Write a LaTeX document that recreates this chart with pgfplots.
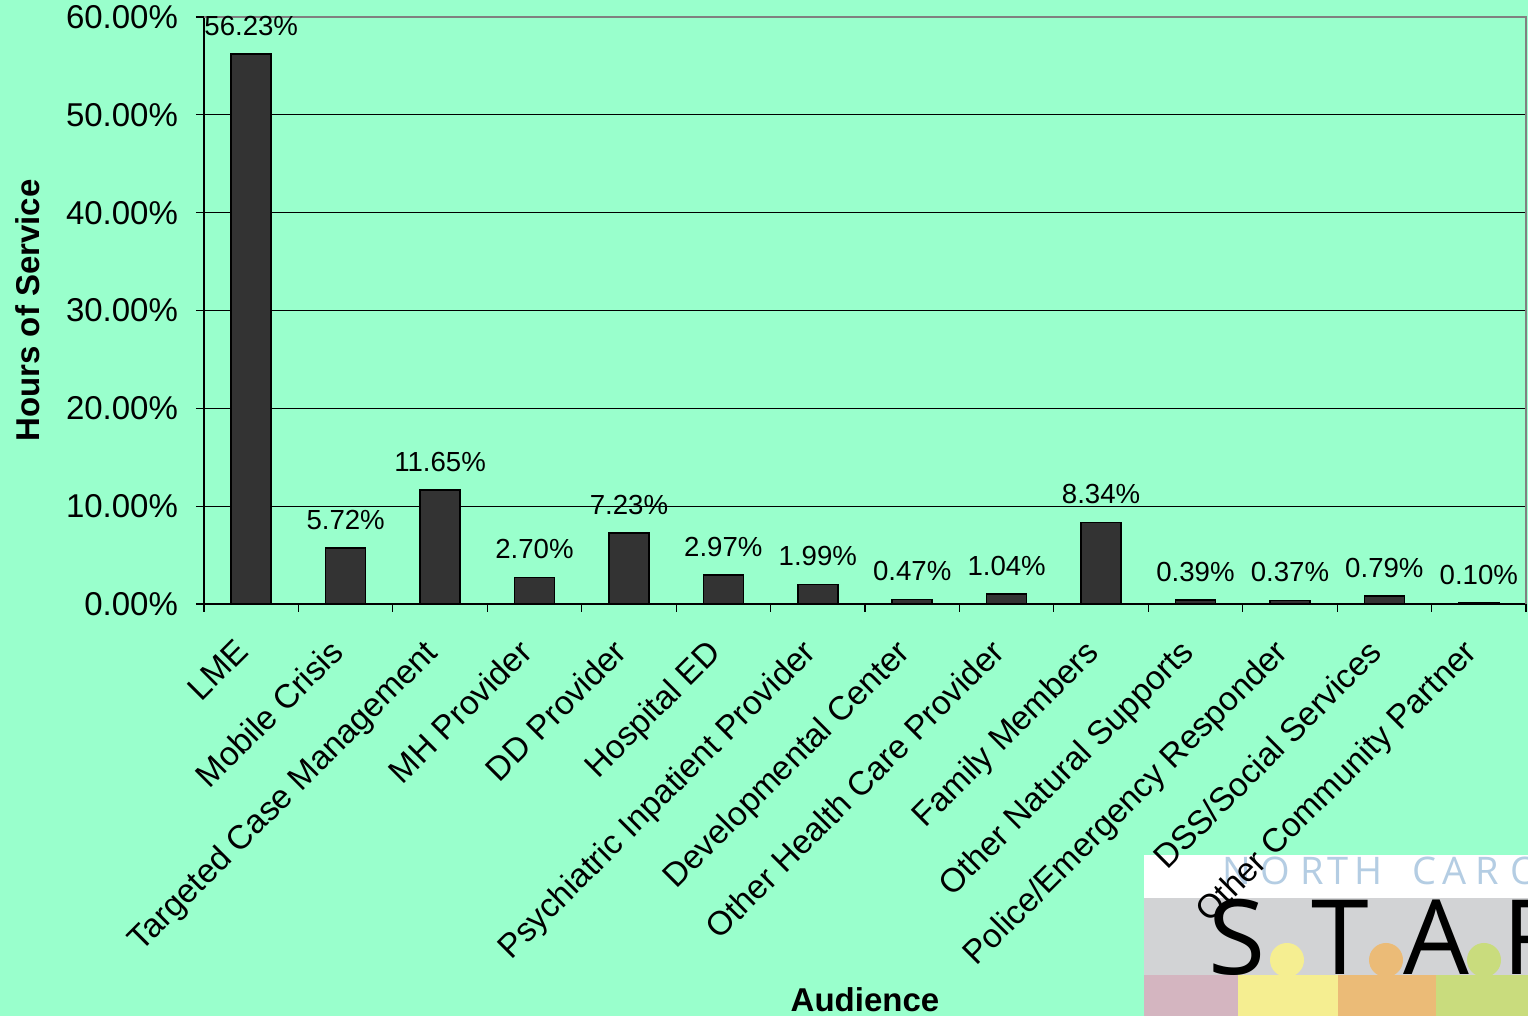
\documentclass[border=0pt]{standalone}
\usepackage{pgfplots}
\pgfplotsset{compat=1.18}
\usepackage{fontspec}
\setmainfont{Liberation Sans}
\newfontfamily\logofont{Open Sans}
\definecolor{bgcol}{HTML}{99FFCC}
\definecolor{barcol}{HTML}{333333}
\definecolor{logogray}{HTML}{D2D3D5}
\definecolor{logoblue}{HTML}{B4CDE3}
\definecolor{lpink}{HTML}{D4B5C0}
\definecolor{lyellow}{HTML}{F5EE91}
\definecolor{lorange}{HTML}{EBBB77}
\definecolor{lgreen}{HTML}{C9DC7D}
\begin{document}
\begin{tikzpicture}
\useasboundingbox (0,0) rectangle (764pt,508pt);
\fill[bgcol] (0,0) rectangle (764pt,508pt);
% logo (behind the chart texts)
\begin{scope}[x=0.5pt,y=0.5pt]
\clip (1144,0) rectangle (1528,161);
\fill[white] (1144,118) rectangle (1528,161);
\fill[logogray] (1144,41) rectangle (1528,118);
\fill[lpink] (1144,0) rectangle (1238,41);
\fill[lyellow] (1238,0) rectangle (1338,41);
\fill[lorange] (1338,0) rectangle (1436,41);
\fill[lgreen] (1436,0) rectangle (1528,41);
\fill[lyellow] (1287,56) circle (17);
\fill[lorange] (1386,56) circle (17);
\fill[lgreen] (1484,56) circle (17);
\begin{scope}[every node/.style={inner sep=0pt,anchor=base,text=logoblue,font=\logofont\fontsize{19}{20}\selectfont}]
\node at (1237,131) {N};
\node at (1275,131) {O};
\node at (1312,131) {R};
\node at (1338,131) {T};
\node at (1369,131) {H};
\node at (1424,131) {C};
\node at (1455,131) {A};
\node at (1487,131) {R};
\node at (1525,131) {O};
\end{scope}
\begin{scope}[every node/.style={inner sep=0pt,anchor=base,text=black,font=\logofont\fontsize{52}{54}\selectfont}]
\node at (1237,41) {S};
\node at (1340,41) {T};
\node at (1436,41) {A};
\node at (1535,41) {R};
\end{scope}
\end{scope}
\begin{axis}[
  at={(102pt,206pt)}, anchor=south west,
  width=661pt, height=293.5pt, scale only axis,
  xmin=-0.5, xmax=13.5, ymin=0, ymax=60,
  ybar, bar width=20pt,
  bar shift=0pt,
  axis line style={black, line width=0.8pt},
  tick align=outside, xtick pos=bottom, ytick pos=left,
  ytick={0,10,...,60},
  yticklabel={\pgfmathprintnumber[fixed,fixed zerofill,precision=2]{\tick}\%},
  yticklabel style={font=\fontsize{16.5}{19}\selectfont, xshift=-5.5pt},
  ymajorgrids, major grid style={black, line width=0.6pt},
  major tick length=4pt, minor tick length=4pt,
  major tick style={black, line width=0.6pt},
  xtick={0,...,13},
  x tick style={draw=none},
  minor xtick={-0.5,0.5,...,13.5},
  minor x tick style={draw=black, line width=0.6pt},
  xticklabels={LME,Mobile Crisis,Targeted Case Management,MH Provider,DD Provider,Hospital ED,Psychiatric Inpatient Provider,Developmental Center,Other Health Care Provider,Family Members,Other Natural Supports,Police/Emergency Responder,DSS/Social Services,Other Community Partner},
  xticklabel style={font=\fontsize{16.7}{19}\selectfont, rotate=45, anchor=north east, inner sep=0pt, yshift=-2.5pt, xshift=-15pt},
  nodes near coords={\pgfmathprintnumber[fixed,fixed zerofill,precision=2]{\pgfplotspointmeta}\%},
  every node near coord/.append style={font=\fontsize{13.8}{16}\selectfont, black, yshift=5.5pt},
  /pgf/number format/assume math mode=true,
  xlabel={\textbf{Audience}},
  xlabel style={at={(rel axis cs:0.5,0)}, anchor=center, yshift=-198pt, font=\fontsize{16.5}{19}\selectfont},
  ylabel={\textbf{Hours of Service}},
  ylabel style={at={(rel axis cs:0,0.5)}, anchor=center, yshift=88pt, font=\fontsize{16.5}{19}\selectfont},
  clip=false,
]
\addplot[fill=barcol, draw=black, line width=0.8pt] coordinates {
(0,56.23) (1,5.72) (2,11.65) (3,2.70) (4,7.23) (5,2.97) (6,1.99)
(7,0.47) (8,1.04) (9,8.34) (10,0.39) (11,0.37) (12,0.79) (13,0.10)};
\draw[gray, line width=1.2pt] (rel axis cs:0,1) -- (rel axis cs:1,1) -- (rel axis cs:1,0);
\end{axis}
\end{tikzpicture}
\end{document}
